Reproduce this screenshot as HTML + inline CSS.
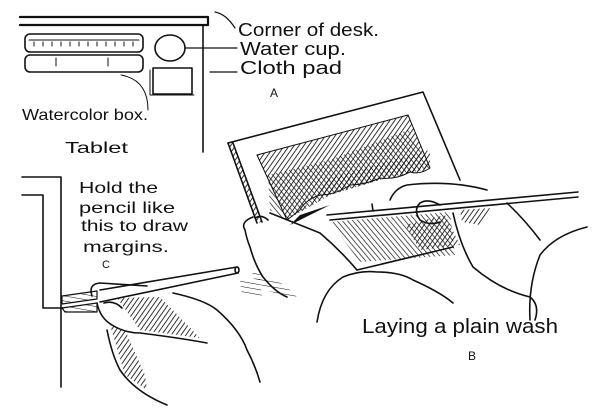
<!DOCTYPE html>
<html><head><meta charset="utf-8"><style>
html,body{margin:0;padding:0;background:#fff;}
svg{display:block;}
text{font-family:"Liberation Sans",sans-serif;fill:#111;}
</style></head><body>
<svg width="600" height="412" viewBox="0 0 600 412" xmlns="http://www.w3.org/2000/svg">
<defs>
<pattern id="h" width="4" height="4" patternUnits="userSpaceOnUse" patternTransform="rotate(35)">
<line x1="0" y1="0" x2="0" y2="4" stroke="#111" stroke-width="1.7"/></pattern>
<pattern id="h2" width="4" height="4" patternUnits="userSpaceOnUse" patternTransform="rotate(-40)">
<line x1="0" y1="0" x2="0" y2="4" stroke="#111" stroke-width="1.4"/></pattern>
<pattern id="h3" width="5" height="5" patternUnits="userSpaceOnUse" patternTransform="rotate(10)">
<line x1="0" y1="0" x2="5" y2="0" stroke="#111" stroke-width="1"/></pattern>
</defs>
<g fill="none" stroke="#111" stroke-width="1.6" stroke-linecap="round" stroke-linejoin="round">
<!-- A -->
<path d="M20 17 H208 V25 H20" stroke-width="2.2"/>
<path d="M203 25 V152"/>
<path d="M215 12 Q226 14 235 28" stroke-width="1.2"/>
<rect x="25" y="34" width="118" height="18" rx="5"/>
<path d="M29 40 H139" stroke-width="1"/>
<path d="M34 42v4M43 42v4M52 42v4M61 42v4M70 42v4M79 42v4M88 42v4M97 42v4M106 42v4M115 42v4M124 42v4M133 42v4" stroke-width="1"/>
<rect x="25" y="55" width="118" height="17" rx="5"/>
<path d="M56 58v8M108 58v8" stroke-width="1"/>
<path d="M121 75 Q148 80 148 110" stroke-width="1"/>
<ellipse cx="170" cy="48" rx="15" ry="13"/>
<rect x="153" y="68" width="39" height="26"/>
<path d="M150 70 V95 H194" stroke-width="1"/>
<path d="M185 48 H237 M210 72 H237" stroke-width="1.2"/>
<!-- C -->
<path d="M22 177 H61 V387"/>
<path d="M22 195 H43 V308 H63"/>
<path d="M62 296 L97 291 L97 299 L62 304 Z" fill="url(#h3)" stroke-width="1.2"/>
<path d="M62 308 L97 303 L97 312 L65 312 Z" fill="url(#h3)" stroke-width="1.2"/>
<path d="M92 296 Q88 284 100 283 L147 286"/>
<path d="M100 290 L237 267 M100 302 L238 273"/>
<ellipse cx="237" cy="270" rx="2" ry="3"/>
<path d="M104 303 Q114 300 122 308"/>
<path d="M97 303 Q100 318 112 325 Q125 333 140 333 Q180 338 207 343"/>
<polygon points="117,298 160,297 200,338 140,330" fill="url(#h)" stroke="none"/>
<path d="M107 330 Q112 355 120 370 Q135 392 167 405"/>
<polygon points="110,325 125,330 145,375 147,390 125,375" fill="url(#h)" stroke="none"/>
<path d="M173 293 Q205 300 217 310 Q240 330 247 350 Q255 365 260 382"/>
<polygon points="240,280 260,278 262,297 242,295" fill="url(#h3)" stroke="none"/>
<!-- B tablet -->
<path d="M228 143 L423 92 L460 180"/>
<path d="M228 143 L257 223"/>
<path d="M233 143 L262 222"/>
<polygon points="228,143 233,143 262,222 257,223" fill="url(#h)" stroke="none"/>
<path d="M357 270 L453 247"/>
<path d="M257 155 L408 115 L430 168 Q420 175 410 172 Q395 180 380 178 Q365 185 350 185 Q335 195 320 195 Q305 200 300 210 L287 220 Z" fill="url(#h)" stroke-width="1"/>
<polygon points="268,175 330,160 408,130 430,168 380,180 330,195 287,220 270,210" fill="url(#h2)" stroke="none"/>
<polygon points="330,178 430,150 430,168 380,180 330,195 300,212" fill="url(#h)" stroke="none"/>
<polygon points="300,215 330,205 290,225" fill="#111" stroke="none"/>
<polygon points="330,222 450,212 455,255 360,262" fill="url(#h2)" stroke="none"/>
<polygon points="405,225 445,215 460,245 420,250" fill="url(#h)" stroke="none"/>
<!-- pencil B -->
<path d="M327 215 L578 192 M330 220 L578 197"/>
<path d="M372 204 L373 211"/>
<!-- left hand B -->
<path d="M253 217 Q240 222 245 230 Q247 240 250 247 Q255 265 263 277 Q275 292 287 297"/>
<path d="M270 213 Q300 225 320 233 Q340 250 357 270"/>
<path d="M255 218 Q262 214 268 220"/>
<polygon points="250,270 285,285 300,300 265,290" fill="url(#h3)" stroke="none"/>
<path d="M317 322 Q322 290 343 277 Q360 270 377 272 Q400 272 413 280 Q440 292 453 303"/>
<!-- right hand B -->
<path d="M390 200 Q395 188 407 185 Q450 180 487 190"/>
<path d="M420 203 Q413 210 420 220 Q430 226 440 222"/>
<path d="M420 203 Q428 198 440 205"/>
<path d="M507 203 Q525 220 540 240"/>
<path d="M453 213 Q460 245 473 267 Q500 290 530 297 Q540 305 535 320"/>
<path d="M530 320 Q528 285 540 255 Q555 235 587 227"/>
<polygon points="460,210 490,208 480,225 462,222" fill="url(#h)" stroke="none"/>
</g>
<text x="238" y="36" font-size="18" textLength="141" lengthAdjust="spacingAndGlyphs">Corner of desk.</text>
<text x="240" y="55" font-size="18" textLength="106" lengthAdjust="spacingAndGlyphs">Water cup.</text>
<text x="240" y="74" font-size="18" textLength="102" lengthAdjust="spacingAndGlyphs">Cloth pad</text>
<text x="270" y="97" font-size="12">A</text>
<text x="22" y="120" font-size="16" textLength="126" lengthAdjust="spacingAndGlyphs">Watercolor box.</text>
<text x="65" y="153" font-size="16" textLength="63" lengthAdjust="spacingAndGlyphs">Tablet</text>
<text x="79" y="193" font-size="16" textLength="79" lengthAdjust="spacingAndGlyphs">Hold the</text>
<text x="79" y="213" font-size="16" textLength="96" lengthAdjust="spacingAndGlyphs">pencil like</text>
<text x="81" y="231" font-size="16" textLength="107" lengthAdjust="spacingAndGlyphs">this to draw</text>
<text x="83" y="252" font-size="16" textLength="86" lengthAdjust="spacingAndGlyphs">margins.</text>
<text x="102" y="268" font-size="11">C</text>
<text x="362" y="333" font-size="20" textLength="196" lengthAdjust="spacingAndGlyphs">Laying a plain wash</text>
<text x="468" y="360" font-size="12">B</text>
</svg>
</body></html>
